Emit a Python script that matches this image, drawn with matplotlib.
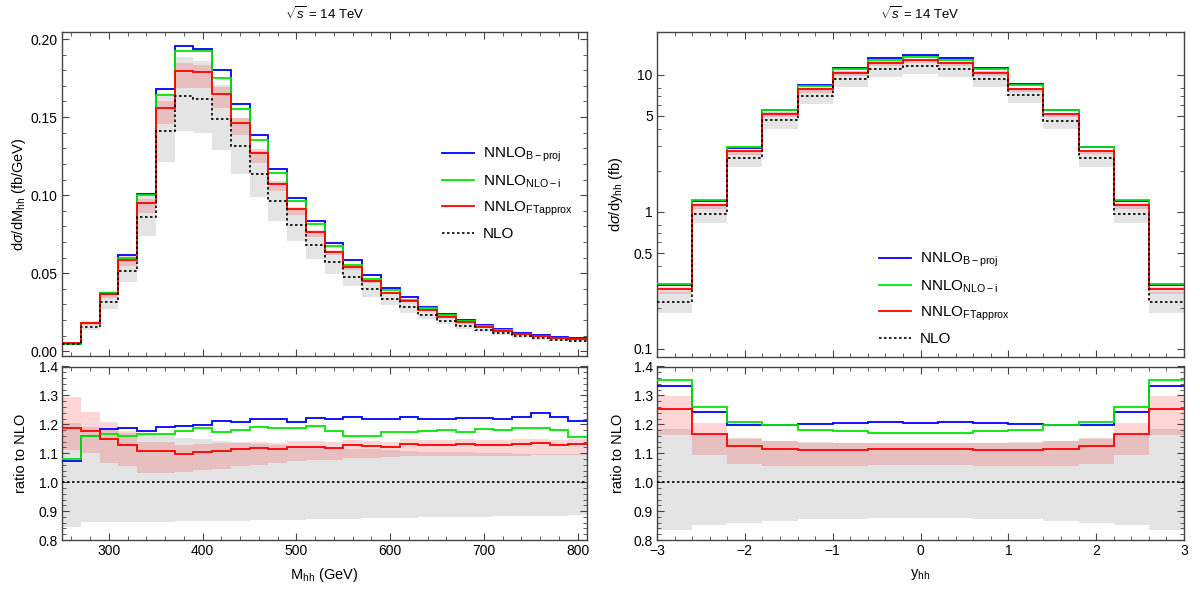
import numpy as np
import matplotlib
matplotlib.use('Agg')
import matplotlib.pyplot as plt
from matplotlib.ticker import MultipleLocator, FixedLocator, FixedFormatter, NullFormatter
from matplotlib.lines import Line2D

plt.rcParams['font.family'] = ['Liberation Sans', 'DejaVu Sans']
plt.rcParams['mathtext.fontset'] = 'custom'
plt.rcParams['mathtext.rm'] = 'Liberation Sans'
plt.rcParams['mathtext.it'] = 'Liberation Sans:italic'
plt.rcParams['mathtext.bf'] = 'Liberation Sans:bold'
plt.rcParams['axes.unicode_minus'] = True

# ---------------- data: M_hh distribution ----------------
mhh_edges = [250, 270, 290, 310, 330, 350, 370, 390, 410, 430, 450, 470, 490, 510, 530,
             550, 570, 590, 610, 630, 650, 670, 690, 710, 730, 750, 770, 790, 810]
mhh_nlo = [0.0046, 0.0156, 0.0318, 0.0517, 0.0857, 0.1408, 0.1634, 0.1619, 0.1491, 0.1312,
           0.1135, 0.0962, 0.0812, 0.0681, 0.0570, 0.0478, 0.0401, 0.0335, 0.0282, 0.0235,
           0.0196, 0.0163, 0.0139, 0.0116, 0.0096, 0.0085, 0.0074, 0.0068]
mhh_r_bproj = [1.073, 1.158, 1.183, 1.187, 1.178, 1.192, 1.195, 1.196, 1.210, 1.207,
               1.219, 1.217, 1.209, 1.221, 1.219, 1.226, 1.219, 1.219, 1.225, 1.219,
               1.219, 1.222, 1.222, 1.219, 1.224, 1.238, 1.226, 1.212]
mhh_r_nloi = [1.080, 1.158, 1.168, 1.160, 1.167, 1.168, 1.176, 1.188, 1.173, 1.181,
              1.192, 1.187, 1.186, 1.195, 1.178, 1.160, 1.160, 1.172, 1.174, 1.176,
              1.181, 1.173, 1.184, 1.180, 1.186, 1.187, 1.180, 1.156]
mhh_r_ftapprox = [1.188, 1.177, 1.149, 1.127, 1.107, 1.107, 1.097, 1.104, 1.107, 1.113,
                  1.117, 1.113, 1.121, 1.122, 1.119, 1.129, 1.124, 1.120, 1.133, 1.129,
                  1.130, 1.133, 1.128, 1.128, 1.131, 1.135, 1.130, 1.133]
mhh_ft_hi = [1.294, 1.243, 1.209, 1.177, 1.140, 1.138, 1.130, 1.132, 1.134, 1.137,
             1.140, 1.136, 1.142, 1.142, 1.140, 1.145, 1.142, 1.140, 1.150, 1.146,
             1.147, 1.150, 1.145, 1.145, 1.148, 1.150, 1.147, 1.150]
mhh_ft_lo = [1.110, 1.100, 1.066, 1.055, 1.032, 1.032, 1.034, 1.041, 1.047, 1.057,
             1.061, 1.066, 1.073, 1.078, 1.078, 1.085, 1.085, 1.088, 1.090, 1.090,
             1.091, 1.091, 1.092, 1.092, 1.092, 1.093, 1.093, 1.093]
mhh_nlo_hi = [1.203, 1.190, 1.180, 1.170, 1.165, 1.160, 1.153, 1.148, 1.142, 1.138,
              1.133, 1.130, 1.126, 1.122, 1.118, 1.116, 1.114, 1.112, 1.108, 1.106,
              1.104, 1.103, 1.102, 1.100, 1.099, 1.098, 1.097, 1.096]
mhh_nlo_lo = [0.844, 0.862, 0.862, 0.862, 0.861, 0.862, 0.864, 0.865, 0.866, 0.867,
              0.868, 0.869, 0.870, 0.871, 0.872, 0.874, 0.875, 0.876, 0.877, 0.878,
              0.879, 0.880, 0.881, 0.882, 0.883, 0.884, 0.884, 0.885]

# ---------------- data: y_hh distribution ----------------
y_edges = [-3.0, -2.6, -2.2, -1.8, -1.4, -1.0, -0.6, -0.2, 0.2, 0.6, 1.0, 1.4, 1.8, 2.2, 2.6, 3.0]
y_nlo = [0.218, 0.965, 2.46, 4.65, 7.03, 9.35, 11.0, 11.5, 10.95, 9.35, 7.08, 4.62, 2.47, 0.965, 0.218]
y_r_bproj = [1.334, 1.241, 1.197, 1.197, 1.201, 1.205, 1.208, 1.205, 1.208, 1.205,
             1.201, 1.197, 1.197, 1.241, 1.334]
y_r_nloi = [1.355, 1.261, 1.207, 1.198, 1.182, 1.178, 1.171, 1.170, 1.171, 1.178,
            1.182, 1.198, 1.207, 1.261, 1.355]
y_r_ftapprox = [1.254, 1.168, 1.124, 1.114, 1.112, 1.110, 1.114, 1.115, 1.115, 1.110,
                1.112, 1.114, 1.124, 1.168, 1.254]
y_ft_hi = [1.298, 1.205, 1.153, 1.142, 1.136, 1.134, 1.136, 1.136, 1.136, 1.134,
           1.136, 1.142, 1.153, 1.205, 1.298]
y_ft_lo = [1.163, 1.093, 1.062, 1.057, 1.055, 1.055, 1.058, 1.058, 1.058, 1.055,
           1.055, 1.057, 1.062, 1.093, 1.163]
y_nlo_hi = [1.183, 1.163, 1.150, 1.142, 1.138, 1.136, 1.136, 1.136, 1.136, 1.136,
            1.138, 1.142, 1.150, 1.163, 1.183]
y_nlo_lo = [0.835, 0.853, 0.859, 0.867, 0.872, 0.874, 0.875, 0.875, 0.875, 0.874,
            0.872, 0.867, 0.859, 0.853, 0.835]

labels = [r'NNLO$_{\mathregular{B-proj}}$', r'NNLO$_{\mathregular{NLO-i}}$',
          r'NNLO$_{\mathregular{FTapprox}}$', 'NLO']

C_BLUE = '#0000ff'
C_GREEN = '#00e800'
C_RED = '#ff0000'
C_GRAY = '#e4e4e4'
PINK_ALPHA = 0.16
SPINE = '#444444'

W, H = 1200, 589
fig = plt.figure(figsize=(W / 100, H / 100), dpi=100)


def px_axes(x0, y0, x1, y1):
    return fig.add_axes([x0 / W, 1 - y1 / H, (x1 - x0) / W, (y1 - y0) / H])


axL = px_axes(62, 32, 587, 356)
axLr = px_axes(62, 366.5, 587, 540)
axR = px_axes(657, 32, 1184, 356.5)
axRr = px_axes(657, 366.5, 1184, 540)


def draw_main(ax, edges, nlo, rb, rn, rf, fhi, flo, nhi, nlo_lo):
    nlo = np.asarray(nlo)
    ax.stairs(nlo * np.asarray(nhi), edges, baseline=nlo * np.asarray(nlo_lo), fill=True,
              color=C_GRAY, lw=0, zorder=1)
    ax.stairs(nlo * np.asarray(fhi), edges, baseline=nlo * np.asarray(flo), fill=True,
              color=C_RED, alpha=PINK_ALPHA, lw=0, zorder=2)
    ax.stairs(nlo * np.asarray(rb), edges, baseline=None, color=C_BLUE, lw=1.3, zorder=3)
    ax.stairs(nlo * np.asarray(rn), edges, baseline=None, color=C_GREEN, lw=1.3, zorder=4)
    ax.stairs(nlo * np.asarray(rf), edges, baseline=None, color=C_RED, lw=1.3, zorder=5)
    ax.stairs(nlo, edges, baseline=None, color='black', lw=1.2, ls=(0, (1.5, 1.5)), zorder=6)


def draw_ratio(ax, edges, rb, rn, rf, fhi, flo, nhi, nlo_lo):
    ax.stairs(nhi, edges, baseline=nlo_lo, fill=True, color=C_GRAY, lw=0, zorder=1)
    ax.stairs(fhi, edges, baseline=flo, fill=True, color=C_RED, alpha=PINK_ALPHA, lw=0, zorder=2)
    ax.stairs(rb, edges, baseline=None, color=C_BLUE, lw=1.3, zorder=3)
    ax.stairs(rn, edges, baseline=None, color=C_GREEN, lw=1.3, zorder=4)
    ax.stairs(rf, edges, baseline=None, color=C_RED, lw=1.3, zorder=5)
    ax.axhline(1.0, color='black', lw=1.2, ls=(0, (1.5, 1.5)), zorder=6)


draw_main(axL, mhh_edges, mhh_nlo, mhh_r_bproj, mhh_r_nloi, mhh_r_ftapprox,
          mhh_ft_hi, mhh_ft_lo, mhh_nlo_hi, mhh_nlo_lo)
draw_ratio(axLr, mhh_edges, mhh_r_bproj, mhh_r_nloi, mhh_r_ftapprox,
           mhh_ft_hi, mhh_ft_lo, mhh_nlo_hi, mhh_nlo_lo)
draw_main(axR, y_edges, y_nlo, y_r_bproj, y_r_nloi, y_r_ftapprox,
          y_ft_hi, y_ft_lo, y_nlo_hi, y_nlo_lo)
draw_ratio(axRr, y_edges, y_r_bproj, y_r_nloi, y_r_ftapprox,
           y_ft_hi, y_ft_lo, y_nlo_hi, y_nlo_lo)

# limits
axL.set_xlim(250, 810)
axLr.set_xlim(250, 810)
axL.set_ylim(-0.003, 0.2045)
axLr.set_ylim(0.8, 1.4)
axRr.set_ylim(0.8, 1.4)
axR.set_xlim(-3, 3)
axRr.set_xlim(-3, 3)
axR.set_yscale('log')
axR.set_ylim(0.088, 20.5)

# ticks
for ax in (axL, axLr):
    ax.xaxis.set_major_locator(MultipleLocator(100))
    ax.xaxis.set_minor_locator(MultipleLocator(20))
for ax in (axR, axRr):
    ax.xaxis.set_major_locator(MultipleLocator(1))
    ax.xaxis.set_minor_locator(MultipleLocator(0.2))
axL.set_yticks([0.0, 0.05, 0.10, 0.15, 0.20])
axL.set_yticklabels(['0.00', '0.05', '0.10', '0.15', '0.20'])
axL.yaxis.set_minor_locator(MultipleLocator(0.01))
for ax in (axLr, axRr):
    ax.set_yticks([0.8, 0.9, 1.0, 1.1, 1.2, 1.3, 1.4])
    ax.set_yticklabels(['0.8', '0.9', '1.0', '1.1', '1.2', '1.3', '1.4'])
    ax.yaxis.set_minor_locator(MultipleLocator(0.02))
axR.yaxis.set_major_locator(FixedLocator([0.1, 0.5, 1, 5, 10]))
axR.yaxis.set_major_formatter(FixedFormatter(['0.1', '0.5', '1', '5', '10']))
axR.yaxis.set_minor_locator(FixedLocator([0.2, 0.3, 0.4, 0.6, 0.7, 0.8, 2, 3, 4, 6, 7, 8]))
axR.yaxis.set_minor_formatter(NullFormatter())

for ax in (axL, axR):
    ax.tick_params(axis='x', which='both', labelbottom=False)

for ax in (axL, axLr, axR, axRr):
    ax.tick_params(which='both', direction='in', top=True, right=True, color=SPINE,
                   labelsize=10, pad=3)
    ax.tick_params(which='major', length=5, width=0.8)
    ax.tick_params(which='minor', length=2.8, width=0.6)
    for s in ax.spines.values():
        s.set_color(SPINE)
        s.set_linewidth(1.0)

# labels
axL.set_ylabel(r'd$\sigma$/dM$_{\mathregular{hh}}$ (fb/GeV)', fontsize=10.5)
axLr.set_ylabel('ratio to NLO', fontsize=10.5)
axR.set_ylabel(r'd$\sigma$/dy$_{\mathregular{hh}}$ (fb)', fontsize=10.5)
axRr.set_ylabel('ratio to NLO', fontsize=10.5)
axLr.set_xlabel(r'M$_{\mathregular{hh}}$ (GeV)', fontsize=10.5, labelpad=6)
axRr.set_xlabel(r'y$_{\mathregular{hh}}$', fontsize=10.5, labelpad=6)
for ax in (axL, axLr):
    ax.yaxis.set_label_coords(-0.065, 0.5)
for ax in (axR, axRr):
    ax.yaxis.set_label_coords(-0.06, 0.5)

fig.text(325 / W, 1 - 14 / H, r'$\sqrt{s}$ = 14 TeV', ha='center', va='center', fontsize=9.5)
fig.text(920 / W, 1 - 14 / H, r'$\sqrt{s}$ = 14 TeV', ha='center', va='center', fontsize=9.5)

# legends
handles = [Line2D([], [], color=C_BLUE, lw=1.3),
           Line2D([], [], color=C_GREEN, lw=1.3),
           Line2D([], [], color=C_RED, lw=1.3),
           Line2D([], [], color='black', lw=1.2, ls=(0, (1.5, 1.5)))]
for ax, anchor in ((axL, (0.723, 0.648)), (axR, (0.421, 0.325))):
    ax.legend(handles, labels, loc='upper left', bbox_to_anchor=anchor, frameon=False,
              fontsize=11, handlelength=2.1, handletextpad=0.6, labelspacing=0.62,
              borderpad=0, borderaxespad=0)

fig.savefig('out.png', dpi=100)
